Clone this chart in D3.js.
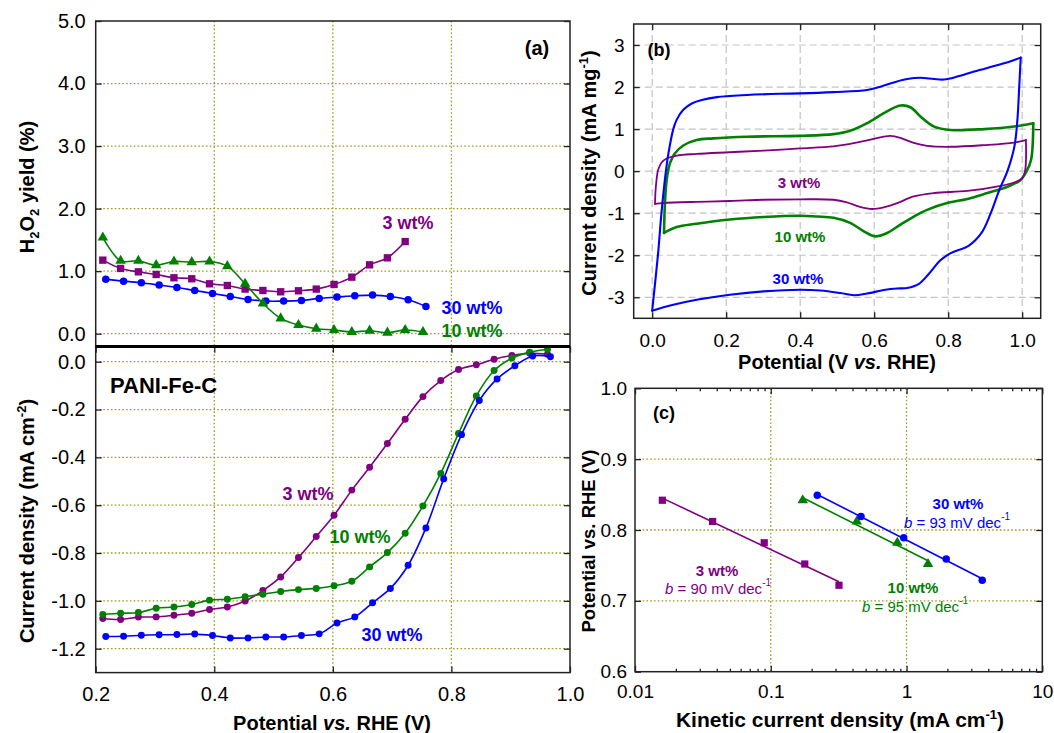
<!DOCTYPE html>
<html>
<head>
<meta charset="utf-8">
<script src="https://cdn.jsdelivr.net/npm/d3@7"></script>
<style>
  body { margin: 0; background: #fff; }
  text { font-family: "Liberation Sans", Arial, Helvetica, sans-serif; }
</style>
</head>
<body>
<svg id="fig" width="1054" height="733"></svg>
<script>
// ---------------- data ----------------
// (a, top) H2O2 yield (%) vs potential (V vs RHE), RRDE
const yieldE3  = [0.212,0.242,0.272,0.302,0.332,0.362,0.392,0.422,0.452,0.482,0.512,0.542,0.572,0.602,0.632,0.662,0.692,0.722];
const yield3   = [1.176,1.043,0.989,0.947,0.894,0.878,0.798,0.771,0.713,0.691,0.670,0.686,0.713,0.787,0.904,1.101,1.213,1.473];
const yieldE10 = [0.212,0.242,0.272,0.302,0.332,0.362,0.392,0.422,0.452,0.482,0.512,0.542,0.572,0.602,0.632,0.662,0.692,0.722,0.752];
const yield10  = [1.537,1.165,1.165,1.096,1.154,1.144,1.154,1.080,0.798,0.484,0.245,0.138,0.080,0.059,0.027,0.048,0.016,0.059,0.027];
const yieldE30 = [0.217,0.247,0.277,0.307,0.337,0.367,0.397,0.427,0.457,0.487,0.517,0.547,0.577,0.607,0.637,0.667,0.697,0.727,0.757];
const yield30  = [0.872,0.840,0.814,0.777,0.739,0.691,0.644,0.596,0.548,0.521,0.521,0.532,0.564,0.585,0.606,0.617,0.596,0.543,0.436];

// (a, bottom) ORR polarisation curves, current density (mA cm-2)
const lsvE3  = [0.212,0.242,0.272,0.302,0.332,0.362,0.392,0.422,0.452,0.482,0.512,0.542,0.572,0.602,0.632,0.662,0.692,0.722,0.752,0.782,0.812,0.842,0.872,0.902,0.932,0.962];
const lsvJ3  = [-1.074,-1.078,-1.068,-1.067,-1.060,-1.052,-1.036,-1.026,-1.001,-0.957,-0.900,-0.819,-0.731,-0.642,-0.537,-0.441,-0.342,-0.241,-0.146,-0.079,-0.033,-0.013,0.010,0.026,0.035,0.031];
const lsvE10 = [0.212,0.242,0.272,0.302,0.332,0.362,0.392,0.422,0.452,0.482,0.512,0.542,0.572,0.602,0.632,0.662,0.692,0.722,0.752,0.782,0.812,0.842,0.872,0.902,0.932,0.962];
const lsvJ10 = [-1.057,-1.052,-1.049,-1.031,-1.026,-1.015,-0.997,-0.993,-0.983,-0.972,-0.961,-0.953,-0.948,-0.937,-0.918,-0.858,-0.798,-0.717,-0.603,-0.467,-0.300,-0.143,-0.037,0.015,0.040,0.052];
const lsvE30 = [0.217,0.247,0.277,0.307,0.337,0.367,0.397,0.427,0.457,0.487,0.517,0.547,0.577,0.607,0.637,0.667,0.697,0.727,0.757,0.787,0.817,0.847,0.877,0.907,0.937,0.967];
const lsvJ30 = [-1.149,-1.148,-1.144,-1.142,-1.141,-1.139,-1.145,-1.155,-1.155,-1.151,-1.151,-1.145,-1.138,-1.093,-1.067,-1.008,-0.948,-0.851,-0.695,-0.490,-0.305,-0.162,-0.072,-0.017,0.024,0.021];

// (b) cyclic voltammograms [E (V), j (mA mg-1)], anodic then cathodic sweep
const cv3Anodic = [[0.0075,-0.78],[0.010,-0.36],[0.016,0.03],[0.025,0.20],[0.039,0.30],[0.066,0.37],[0.12,0.41],[0.21,0.45],[0.301,0.49],[0.40,0.54],[0.49,0.59],[0.535,0.65],[0.581,0.73],[0.626,0.82],[0.644,0.84],[0.671,0.79],[0.707,0.67],[0.743,0.60],[0.807,0.58],[0.897,0.62],[0.978,0.68],[1.010,0.74]];
const cv3Cathodic = [[1.010,0.74],[1.008,0.02],[1.000,-0.17],[0.978,-0.27],[0.942,-0.35],[0.852,-0.47],[0.762,-0.52],[0.707,-0.60],[0.662,-0.76],[0.626,-0.86],[0.594,-0.90],[0.562,-0.85],[0.526,-0.74],[0.49,-0.68],[0.40,-0.67],[0.301,-0.68],[0.21,-0.71],[0.12,-0.73],[0.03,-0.76],[0.0075,-0.78]];
const cv10Anodic = [[0.032,-1.47],[0.034,-0.84],[0.039,-0.21],[0.048,0.19],[0.061,0.42],[0.084,0.61],[0.12,0.74],[0.165,0.78],[0.256,0.82],[0.40,0.84],[0.49,0.88],[0.535,0.96],[0.581,1.14],[0.626,1.38],[0.671,1.56],[0.698,1.52],[0.725,1.30],[0.762,1.06],[0.807,0.98],[0.897,1.00],[0.978,1.06],[1.030,1.14]];
const cv10Cathodic = [[1.030,1.14],[1.024,0.27],[1.012,0.0],[0.994,-0.22],[0.960,-0.37],[0.906,-0.52],[0.852,-0.66],[0.797,-0.76],[0.743,-0.92],[0.707,-1.08],[0.671,-1.27],[0.635,-1.47],[0.601,-1.55],[0.572,-1.43],[0.535,-1.23],[0.49,-1.11],[0.445,-1.08],[0.40,-1.06],[0.301,-1.09],[0.21,-1.15],[0.12,-1.25],[0.066,-1.33],[0.032,-1.47]];
const cv30Anodic = [[0.0,-3.32],[0.016,-1.95],[0.025,-1.0],[0.037,0.0],[0.044,0.43],[0.057,1.0],[0.066,1.22],[0.084,1.46],[0.107,1.61],[0.134,1.69],[0.175,1.76],[0.256,1.81],[0.346,1.84],[0.40,1.85],[0.49,1.88],[0.581,1.93],[0.617,2.01],[0.653,2.11],[0.689,2.19],[0.725,2.22],[0.762,2.19],[0.789,2.18],[0.825,2.25],[0.870,2.37],[0.924,2.50],[0.961,2.59],[0.996,2.70]];
const cv30Cathodic = [[0.996,2.70],[0.992,2.01],[0.987,1.22],[0.979,0.59],[0.960,0.0],[0.938,-0.45],[0.915,-1.0],[0.890,-1.47],[0.856,-1.77],[0.807,-1.95],[0.779,-2.12],[0.748,-2.44],[0.721,-2.68],[0.689,-2.78],[0.662,-2.79],[0.630,-2.82],[0.581,-2.91],[0.545,-2.95],[0.509,-2.90],[0.455,-2.84],[0.40,-2.82],[0.301,-2.86],[0.21,-2.94],[0.12,-3.06],[0.057,-3.18],[0.0,-3.32]];

// (c) Tafel plots: kinetic current density (mA cm-1) and potential (V vs RHE)
const tafelJ3  = [0.0159,0.0373,0.0895,0.178,0.318];
const tafelE3  = [0.842,0.812,0.782,0.752,0.722];
const tafelJ10 = [0.172,0.430,0.855,1.44];
const tafelE10 = [0.842,0.812,0.782,0.752];
const tafelJ30 = [0.220,0.462,0.953,1.96,3.61];
const tafelE30 = [0.849,0.819,0.789,0.759,0.729];

// tick values
const ticksYieldY = [0,1,2,3,4,5];
const ticksLsvY = [0,-0.2,-0.4,-0.6,-0.8,-1.0,-1.2];
const ticksAX = [0.2,0.4,0.6,0.8,1.0];
const ticksCvX = [0,0.2,0.4,0.6,0.8,1.0];
const ticksCvY = [-3,-2,-1,0,1,2,3];
const ticksTafelX = [0.01,0.1,1,10];
const ticksTafelY = [0.6,0.7,0.8,0.9,1.0];

// ---------------- drawing ----------------
const C3 = "#800080", C10 = "#008000", C30 = "#0000ff";
const OLIVE = "#9c9c20";
const FRAME = "#222";
const svg = d3.select("#fig");
svg.append("rect").attr("width", 1054).attr("height", 733).attr("fill", "#fff");

function frame(x0, y0, x1, y1) {
  svg.append("rect").attr("x", x0).attr("y", y0).attr("width", x1 - x0).attr("height", y1 - y0)
    .attr("fill", "none").attr("stroke", FRAME).attr("stroke-width", 1.5);
}
function gridLine(g, x1, y1, x2, y2, color, dash, w) {
  g.append("line").attr("x1", x1).attr("y1", y1).attr("x2", x2).attr("y2", y2)
    .attr("stroke", color).attr("stroke-width", w).attr("stroke-dasharray", dash);
}
function styleAxis(g, fs) {
  g.select(".domain").remove();
  g.selectAll(".tick line").attr("stroke", FRAME).attr("stroke-width", 1.3);
  g.selectAll(".tick text").attr("fill", "#000").style("font-size", fs + "px")
    .style("font-family", '"Liberation Sans", Arial, sans-serif');
}
function axisAt(axis, tx, ty, fs) {
  const g = svg.append("g").attr("transform", `translate(${tx},${ty})`).call(axis);
  styleAxis(g, fs);
  return g;
}
function curvePath(g, pts, sx, sy, color, lw) {
  g.append("path")
    .attr("d", d3.line().x(d => sx(d[0])).y(d => sy(d[1])).curve(d3.curveCatmullRom.alpha(0.5))(pts))
    .attr("fill", "none").attr("stroke", color).attr("stroke-width", lw)
    .attr("stroke-linejoin", "round").attr("stroke-linecap", "round");
}
function series(g, xs, ys, sx, sy, color, sym, size, lw) {
  const pts = xs.map((x, i) => [x, ys[i]]);
  curvePath(g, pts, sx, sy, color, lw);
  g.selectAll(null).data(pts).enter().append("path")
    .attr("transform", d => `translate(${sx(d[0])},${sy(d[1])})`)
    .attr("d", d3.symbol().type(sym).size(size)())
    .attr("fill", color);
}
function label(x, y, txt, color, fs, weight) {
  return svg.append("text").attr("x", x).attr("y", y).attr("text-anchor", "middle")
    .attr("dominant-baseline", "central").attr("fill", color)
    .style("font-size", fs + "px").style("font-weight", weight || "bold").text(txt);
}
function rotTitle(x, y, fs) {
  return svg.append("text").attr("transform", `translate(${x},${y}) rotate(-90)`)
    .attr("text-anchor", "middle").attr("dy", "0.36em")
    .style("font-size", fs + "px").style("font-weight", "bold").attr("fill", "#000");
}

// ===== panel (a) =====
const ax = d3.scaleLinear().domain([0.2, 1.0]).range([95.7, 570]);
const ayTop = d3.scaleLinear().domain([-0.2, 5.0]).range([346.2, 21]);
const ayBot = d3.scaleLinear().domain([-1.3, 0.0627]).range([672.6, 346.7]);
const gA = svg.append("g");
[0.4, 0.6, 0.8].forEach(v => {
  gridLine(gA, ax(v), ayTop.range()[1], ax(v), ayTop.range()[0], OLIVE, "1.6,2.2", 1.3);
  gridLine(gA, ax(v), ayBot.range()[1], ax(v), ayBot.range()[0], OLIVE, "1.6,2.2", 1.3);
});
[0, 1, 2, 3, 4].forEach(v => gridLine(gA, ax.range()[0], ayTop(v), ax.range()[1], ayTop(v), OLIVE, "1.6,2.2", 1.3));
ticksLsvY.forEach(v => gridLine(gA, ax.range()[0], ayBot(v), ax.range()[1], ayBot(v), OLIVE, "1.6,2.2", 1.3));

axisAt(d3.axisLeft(ayTop).tickValues(ticksYieldY).tickSize(-6).tickPadding(10).tickFormat(d => d.toFixed(1)), ax.range()[0], 0, 20);
axisAt(d3.axisRight(ayTop).tickValues(ticksYieldY).tickSize(-6).tickFormat(""), ax.range()[1], 0, 20);
axisAt(d3.axisLeft(ayBot).tickValues(ticksLsvY).tickSize(-6).tickPadding(10).tickFormat(d => d.toFixed(1)), ax.range()[0], 0, 20);
axisAt(d3.axisRight(ayBot).tickValues(ticksLsvY).tickSize(-6).tickFormat(""), ax.range()[1], 0, 20);
axisAt(d3.axisBottom(ax).tickValues(ticksAX).tickSize(-6).tickPadding(14).tickFormat(d => d.toFixed(1)), 0, ayBot.range()[0], 20);
axisAt(d3.axisTop(ax).tickValues(ticksAX).tickSize(-6).tickFormat(""), 0, ayBot.range()[1], 20);

frame(ax.range()[0], ayTop.range()[1], ax.range()[1], ayTop.range()[0]);
frame(ax.range()[0], ayBot.range()[1], ax.range()[1], ayBot.range()[0]);
svg.append("line").attr("x1", ax.range()[0]).attr("x2", ax.range()[1])
  .attr("y1", 346.5).attr("y2", 346.5).attr("stroke", "#000").attr("stroke-width", 3);

series(gA, yieldE3, yield3, ax, ayTop, C3, d3.symbolSquare, 54, 1.6);
series(gA, yieldE30, yield30, ax, ayTop, C30, d3.symbolCircle, 44, 1.6);
series(gA, yieldE10, yield10, ax, ayTop, C10, d3.symbolTriangle, 48, 1.6);

series(gA, lsvE3, lsvJ3, ax, ayBot, C3, d3.symbolCircle, 38, 1.6);
series(gA, lsvE10, lsvJ10, ax, ayBot, C10, d3.symbolCircle, 38, 1.6);
series(gA, lsvE30, lsvJ30, ax, ayBot, C30, d3.symbolCircle, 38, 1.6);

label(537, 48, "(a)", "#000", 20);
label(408, 223, "3 wt%", C3, 18);
label(472, 308, "30 wt%", C30, 18);
label(472, 331, "10 wt%", C10, 18);
svg.append("text").attr("x", 110).attr("y", 385).attr("dominant-baseline", "central")
  .style("font-size", "22px").style("font-weight", "bold").attr("fill", "#000").text("PANI-Fe-C");
label(308, 494, "3 wt%", C3, 18);
label(360, 537, "10 wt%", C10, 18);
label(392, 635, "30 wt%", C30, 18);

// axis titles (a)
const tA = svg.append("text").attr("x", 332).attr("y", 730).attr("text-anchor", "middle")
  .style("font-size", "20px").style("font-weight", "bold").attr("fill", "#000");
tA.append("tspan").text("Potential ");
tA.append("tspan").style("font-style", "italic").text("vs.");
tA.append("tspan").text(" RHE (V)");

const tH = rotTitle(27, 187, 20);
tH.append("tspan").text("H");
tH.append("tspan").attr("dy", 5).style("font-size", "13px").text("2");
tH.append("tspan").attr("dy", -5).text("O");
tH.append("tspan").attr("dy", 5).style("font-size", "13px").text("2");
tH.append("tspan").attr("dy", -5).text(" yield (%)");

const tJ = rotTitle(27, 521, 20);
tJ.append("tspan").text("Current density (mA cm");
tJ.append("tspan").attr("dy", -8).style("font-size", "13px").text("-2");
tJ.append("tspan").attr("dy", 8).text(")");

// ===== panel (b) =====
const bx = d3.scaleLinear().domain([-0.05, 1.05]).range([633.7, 1040.7]);
const by = d3.scaleLinear().domain([-3.5, 3.5]).range([318.3, 24]);
const gB = svg.append("g");
ticksCvX.forEach(v => gridLine(gB, bx(v), by.range()[1], bx(v), by.range()[0], "#c4c4c4", "7,4", 1.2));
ticksCvY.forEach(v => gridLine(gB, bx.range()[0], by(v), bx.range()[1], by(v), "#c4c4c4", "7,4", 1.2));
axisAt(d3.axisLeft(by).tickValues(ticksCvY).tickSize(-6).tickPadding(9).tickFormat(d => String(d)), bx.range()[0], 0, 19);
axisAt(d3.axisRight(by).tickValues(ticksCvY).tickSize(-6).tickFormat(""), bx.range()[1], 0, 19);
axisAt(d3.axisBottom(bx).tickValues(ticksCvX).tickSize(-6).tickPadding(15).tickFormat(d => d.toFixed(1)), 0, by.range()[0], 19);
axisAt(d3.axisTop(bx).tickValues(ticksCvX).tickSize(-6).tickFormat(""), 0, by.range()[1], 19);

curvePath(gB, cv10Anodic, bx, by, C10, 2.6);
curvePath(gB, cv10Cathodic, bx, by, C10, 2.6);
curvePath(gB, cv3Anodic, bx, by, C3, 1.8);
curvePath(gB, cv3Cathodic, bx, by, C3, 1.8);
curvePath(gB, cv30Anodic, bx, by, C30, 2.1);
curvePath(gB, cv30Cathodic, bx, by, C30, 2.1);
frame(bx.range()[0], by.range()[1], bx.range()[1], by.range()[0]);

label(659, 50, "(b)", "#000", 18);
label(799, 182, "3 wt%", C3, 15);
label(800, 236, "10 wt%", C10, 15);
label(798, 278, "30 wt%", C30, 15);

const tBx = svg.append("text").attr("x", 837).attr("y", 369).attr("text-anchor", "middle")
  .style("font-size", "20px").style("font-weight", "bold").attr("fill", "#000");
tBx.append("tspan").text("Potential (V ");
tBx.append("tspan").style("font-style", "italic").text("vs.");
tBx.append("tspan").text(" RHE)");
const tBy = rotTitle(589, 173, 20);
tBy.append("tspan").text("Current density (mA mg");
tBy.append("tspan").attr("dy", -8).style("font-size", "13px").text("-1");
tBy.append("tspan").attr("dy", 8).text(")");

// ===== panel (c) =====
const cx = d3.scaleLog().domain([0.01, 10]).range([635, 1042.3]);
const cy = d3.scaleLinear().domain([0.6, 1.0]).range([671.7, 388.3]);
const gC = svg.append("g");
[0.1, 1].forEach(v => gridLine(gC, cx(v), cy.range()[1], cx(v), cy.range()[0], OLIVE, "1.6,2.2", 1.3));
[0.7, 0.8, 0.9].forEach(v => gridLine(gC, cx.range()[0], cy(v), cx.range()[1], cy(v), OLIVE, "1.6,2.2", 1.3));
axisAt(d3.axisLeft(cy).tickValues(ticksTafelY).tickSize(-6).tickPadding(8).tickFormat(d => d.toFixed(1)), cx.range()[0], 0, 19);
axisAt(d3.axisRight(cy).tickValues(ticksTafelY).tickSize(-6).tickFormat(""), cx.range()[1], 0, 19);
axisAt(d3.axisBottom(cx).tickValues(ticksTafelX).tickSize(-6).tickPadding(13).tickFormat(d => String(d)), 0, cy.range()[0], 19);
axisAt(d3.axisTop(cx).tickValues(ticksTafelX).tickSize(-6).tickFormat(""), 0, cy.range()[1], 19);
// minor log ticks
const minor = cx.ticks().filter(v => !ticksTafelX.includes(v));
axisAt(d3.axisBottom(cx).tickValues(minor).tickSize(-3).tickFormat(""), 0, cy.range()[0], 19);
axisAt(d3.axisTop(cx).tickValues(minor).tickSize(-3).tickFormat(""), 0, cy.range()[1], 19);

function tafel(js, es, color, sym, size) {
  // least-squares fit E = a*log10(j) + b
  const lx = js.map(Math.log10);
  const mx = d3.mean(lx), me = d3.mean(es);
  const a = d3.sum(lx.map((v, i) => (v - mx) * (es[i] - me))) / d3.sum(lx.map(v => (v - mx) ** 2));
  const b = me - a * mx;
  const [j0, j1] = d3.extent(js);
  gC.append("line").attr("x1", cx(j0)).attr("y1", cy(a * Math.log10(j0) + b))
    .attr("x2", cx(j1)).attr("y2", cy(a * Math.log10(j1) + b))
    .attr("stroke", color).attr("stroke-width", 1.6);
  gC.selectAll(null).data(js.map((j, i) => [j, es[i]])).enter().append("path")
    .attr("transform", d => `translate(${cx(d[0])},${cy(d[1])})`)
    .attr("d", d3.symbol().type(sym).size(size)())
    .attr("fill", color);
}
tafel(tafelJ3, tafelE3, C3, d3.symbolSquare, 52);
tafel(tafelJ10, tafelE10, C10, d3.symbolTriangle, 48);
tafel(tafelJ30, tafelE30, C30, d3.symbolCircle, 44);
frame(cx.range()[0], cy.range()[1], cx.range()[1], cy.range()[0]);

label(664, 413, "(c)", "#000", 18);
function slopeLabel(x, y, val, color) {
  const t = svg.append("text").attr("x", x).attr("y", y).attr("text-anchor", "middle")
    .attr("dominant-baseline", "central").attr("fill", color).style("font-size", "15px");
  t.append("tspan").style("font-style", "italic").text("b");
  t.append("tspan").text(` = ${val} mV dec`);
  t.append("tspan").attr("dy", -6).style("font-size", "10px").text("-1");
}
label(958, 503, "30 wt%", C30, 15);
slopeLabel(957, 522, 93, C30);
label(717, 570, "3 wt%", C3, 15);
slopeLabel(718, 588, 90, C3);
label(913, 587, "10 wt%", C10, 15);
slopeLabel(915, 606, 95, C10);

const tCx = svg.append("text").attr("x", 840).attr("y", 727).attr("text-anchor", "middle")
  .style("font-size", "21px").style("font-weight", "bold").attr("fill", "#000");
tCx.append("tspan").text("Kinetic current density (mA cm");
tCx.append("tspan").attr("dy", -8).style("font-size", "13px").text("-1");
tCx.append("tspan").attr("dy", 8).text(")");
rotTitle(588, 541, 18.5).text("Potential vs. RHE (V)");
</script>
</body>
</html>
